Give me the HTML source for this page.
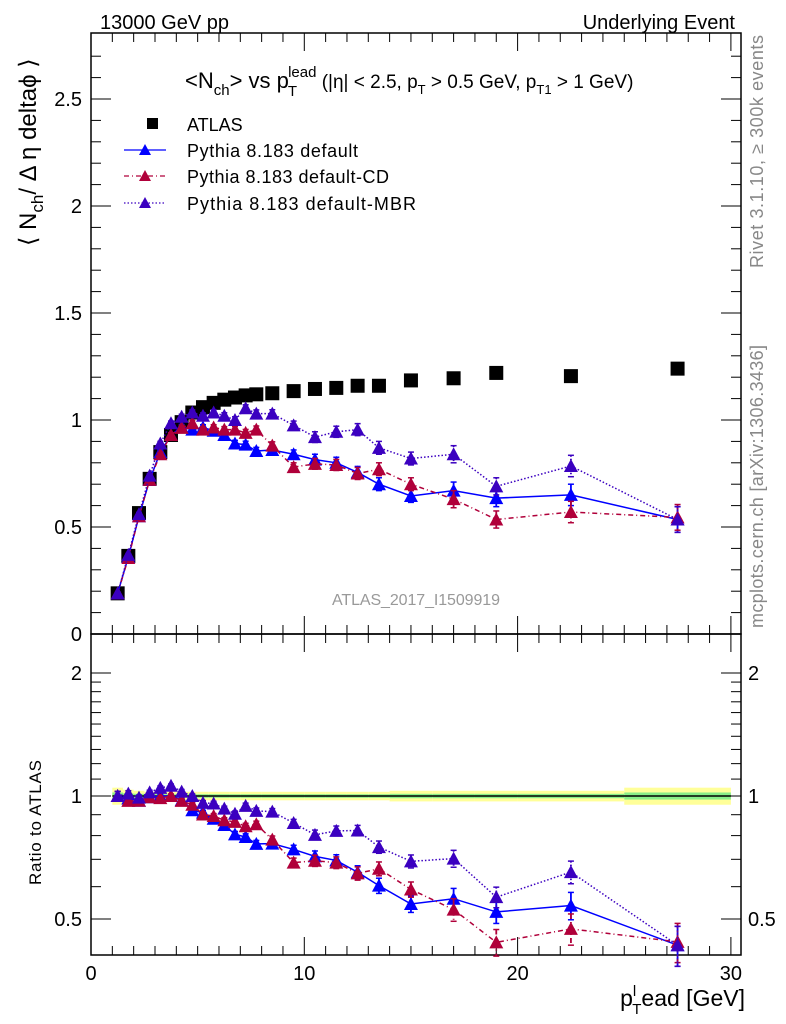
<!DOCTYPE html>
<html><head><meta charset="utf-8"><style>
html,body{margin:0;padding:0;background:#fff}
svg{display:block;font-family:"Liberation Sans",Arial,sans-serif}
</style></head><body>
<svg id="c" width="786" height="1024" viewBox="0 0 786 1024" xmlns="http://www.w3.org/2000/svg">
<g id="band"></g>
<g id="axes"></g>
<g id="marks"></g>
<text x="100" y="29" font-size="20">13000 GeV pp</text>
<text x="735" y="29" font-size="20" text-anchor="end">Underlying Event</text>
<text x="185" y="88" font-size="22">&lt;N<tspan font-size="15" dy="7">ch</tspan><tspan dy="-7">&gt; vs p</tspan><tspan font-size="15" dy="8" dx="-1">T</tspan><tspan font-size="15" dy="-19" dx="-9">lead</tspan><tspan font-size="19" dy="11"> (|η| &lt; 2.5, p</tspan><tspan font-size="13" dy="6">T</tspan><tspan font-size="19" dy="-6"> &gt; 0.5 GeV, p</tspan><tspan font-size="13" dy="6">T1</tspan><tspan font-size="19" dy="-6"> &gt; 1 GeV)</tspan></text>
<g font-size="18">
<rect x="147" y="118" width="11" height="11" fill="#000"/>
<text x="187" y="131">ATLAS</text>
<line x1="124" y1="150" x2="166" y2="150" stroke="#0000ff" stroke-width="1.3"/>
<polygon points="139,155 151,155 145,144" fill="#0000ff"/>
<text x="187" y="157" textLength="171">Pythia 8.183 default</text>
<line x1="124" y1="176" x2="166" y2="176" stroke="#b0003a" stroke-width="1.3" stroke-dasharray="5,3,1,3"/>
<polygon points="139,181 151,181 145,170" fill="#b0003a"/>
<text x="187" y="183" textLength="202">Pythia 8.183 default-CD</text>
<line x1="124" y1="203" x2="166" y2="203" stroke="#3b00c0" stroke-width="1.3" stroke-dasharray="1.5,2"/>
<polygon points="139,208 151,208 145,197" fill="#3b00c0"/>
<text x="187" y="210" textLength="229">Pythia 8.183 default-MBR</text>
</g>
<text x="332" y="605" font-size="16" fill="#999" textLength="168">ATLAS_2017_I1509919</text>
<text transform="translate(763,268) rotate(-90)" font-size="18" fill="#888" textLength="233">Rivet 3.1.10, ≥ 300k events</text>
<text transform="translate(763,628) rotate(-90)" font-size="18" fill="#888" textLength="283">mcplots.cern.ch [arXiv:1306.3436]</text>
<text transform="translate(36,246) rotate(-90)" font-size="24">⟨ N<tspan font-size="17" dy="7">ch</tspan><tspan dy="-7">/ Δ η deltaϕ ⟩</tspan></text>
<text transform="translate(41,885) rotate(-90)" font-size="17" textLength="125">Ratio to ATLAS</text>
<text x="745" y="1006" font-size="23" text-anchor="end">p<tspan font-size="15" dy="-10">l</tspan><tspan font-size="15" dy="18" dx="-4">T</tspan><tspan dy="-8">ead [GeV]</tspan></text>
</svg>
<script>
const xCenters=[1.25,1.75,2.25,2.75,3.25,3.75,4.25,4.75,5.25,5.75,6.25,6.75,7.25,7.75,8.5,9.5,10.5,11.5,12.5,13.5,15,17,19,22.5,27.5];
const atlas=[0.19,0.365,0.565,0.725,0.85,0.93,0.99,1.035,1.06,1.08,1.095,1.105,1.115,1.12,1.125,1.135,1.145,1.15,1.16,1.16,1.185,1.195,1.22,1.205,1.24];
const pyDefault=[0.19,0.36,0.55,0.72,0.85,0.93,0.967,0.955,0.965,0.95,0.93,0.89,0.885,0.855,0.86,0.84,0.815,0.80,0.755,0.70,0.645,0.67,0.635,0.65,0.535];
const pyCD=[0.19,0.355,0.55,0.72,0.84,0.93,0.963,0.985,0.955,0.965,0.955,0.955,0.94,0.955,0.88,0.78,0.795,0.79,0.75,0.77,0.70,0.63,0.535,0.57,0.545];
const pyMBR=[0.19,0.37,0.56,0.74,0.89,0.985,1.015,1.035,1.02,1.035,1.02,1.0,1.055,1.03,1.03,0.975,0.92,0.945,0.955,0.87,0.82,0.84,0.69,0.785,0.535];
const mcErr=[0.005,0.006,0.008,0.009,0.01,0.01,0.012,0.012,0.013,0.013,0.014,0.015,0.016,0.017,0.018,0.02,0.025,0.026,0.028,0.03,0.03,0.04,0.04,0.05,0.06];
const bandHalf=[0.04,0.03,0.025,0.02,0.02,0.02,0.02,0.02,0.02,0.02,0.02,0.02,0.02,0.02,0.02,0.02,0.02,0.02,0.02,0.02,0.025,0.025,0.025,0.025,0.04];
const binEdges=[1,1.5,2,2.5,3,3.5,4,4.5,5,5.5,6,6.5,7,7.5,8,9,10,11,12,13,14,16,18,20,25,30];
const xTicks=[0,10,20,30];
const yTicks=[0.5,1,1.5,2,2.5];
const yTickLabels=["0.5","1","1.5","2","2.5"];
const rTicks=[0.5,1,2];

const NS="http://www.w3.org/2000/svg";
const L=91,R=741,T=33,MB=634,RB=955;
const X=v=>L+v*21.33;
const Y=v=>MB-v*214;
const RY=v=>796-Math.log(v)*177.5;
function mk(p,tag,at){const e=document.createElementNS(NS,tag);for(const k in at)e.setAttribute(k,at[k]);p.appendChild(e);return e;}
const axes=document.getElementById('axes'),marks=document.getElementById('marks'),band=document.getElementById('band');

for(let i=0;i<xCenters.length;i++){
  const x1=X(binEdges[i]),x2=X(binEdges[i+1]),h=bandHalf[i];
  const y=mk(band,'rect',{x:x1,y:RY(1+h*1.2),width:x2-x1,height:RY(1-h*1.2)-RY(1+h*1.2),fill:'#ffff99'});
  
  
  const g=mk(band,'rect',{x:x1,y:RY(1+h*0.5),width:x2-x1,height:RY(1-h*0.5)-RY(1+h*0.5),fill:'#88ee88'});
  
  
}
mk(band,'line',{x1:X(1),x2:X(30),y1:RY(1),y2:RY(1),stroke:'#000','stroke-width':1.5});

const f1=mk(axes,'rect',{x:L,y:T,width:R-L,height:MB-T,fill:'none',stroke:'#000','stroke-width':1.5});


const f2=mk(axes,'rect',{x:L,y:MB,width:R-L,height:RB-MB,fill:'none',stroke:'#000','stroke-width':1.5});



for(let v=0;v<=30;v++){
  const x=X(v),len=(v%10===0)?18:9;
  [[T,1],[MB,-1],[MB,1],[RB,-1]].forEach(([y0,d])=>mk(axes,'line',{x1:x,x2:x,y1:y0,y2:y0+d*len,stroke:'#000','stroke-width':1}));
}
xTicks.forEach(v=>{const t=mk(axes,'text',{x:X(v),y:980,'font-size':20,'text-anchor':'middle'});t.textContent=String(v);

});
for(let i=1;i<=27;i++){const v=i/10,y=Y(v),len=(i%5===0)?20:10;
  mk(axes,'line',{x1:L,x2:L+len,y1:y,y2:y,stroke:'#000'});mk(axes,'line',{x1:R,x2:R-len,y1:y,y2:y,stroke:'#000'});}
mk(axes,'line',{x1:L,x2:L+20,y1:Y(0),y2:Y(0),stroke:'#000'});
yTicks.forEach((v,i)=>{const t=mk(axes,'text',{x:82,y:Y(v)+7,'font-size':20,'text-anchor':'end'});t.textContent=yTickLabels[i];

});
const z=mk(axes,'text',{x:82,y:641,'font-size':20,'text-anchor':'end'});z.textContent='0';
[0.5,0.6,0.7,0.8,0.9,1,1.1,1.2,1.3,1.4,1.5,1.6,1.7,1.8,1.9,2].forEach(v=>{const y=RY(v),len=rTicks.includes(v)?20:10;
  mk(axes,'line',{x1:L,x2:L+len,y1:y,y2:y,stroke:'#000'});mk(axes,'line',{x1:R,x2:R-len,y1:y,y2:y,stroke:'#000'});});
rTicks.forEach(v=>{const s=String(v);
  const a=mk(axes,'text',{x:82,y:RY(v)+7,'font-size':20,'text-anchor':'end'});a.textContent=s;
  
  
  const b=mk(axes,'text',{x:748,y:RY(v)+7,'font-size':20});b.textContent=s;
  
  });

const series=[
 {name:'default',vals:pyDefault,col:'#0000ff',dash:''},
 {name:'default-cd',vals:pyCD,col:'#b0003a',dash:'5,3,1,3'},
 {name:'default-mbr',vals:pyMBR,col:'#3b00c0',dash:'1.5,2'}];
function tri(g,x,y,c){mk(g,'polygon',{points:`${x-7},${y+6} ${x+7},${y+6} ${x},${y-7}`,fill:c});}
const ga=mk(marks,'g',{});


xCenters.forEach((x,i)=>{mk(ga,'rect',{x:X(x)-7,y:Y(atlas[i])-7,width:14,height:14,fill:'#000'});});
series.forEach(s=>{
  ['main','ratio'].forEach(panel=>{
    const g=mk(marks,'g',{});
    
    
    const yf=panel==='main'?(i=>Y(s.vals[i])):(i=>RY(s.vals[i]/atlas[i]));
    const ye=panel==='main'?((i,d)=>Y(s.vals[i]+d*mcErr[i])):((i,d)=>RY((s.vals[i]+d*mcErr[i])/atlas[i]));
    const pts=xCenters.map((x,i)=>X(x)+','+yf(i)).join(' ');
    mk(g,'polyline',{points:pts,fill:'none',stroke:s.col,'stroke-width':1.5,'stroke-dasharray':s.dash});
    xCenters.forEach((x,i)=>{const px=X(x);
      mk(g,'line',{x1:px,x2:px,y1:ye(i,1),y2:ye(i,-1),stroke:s.col,'stroke-width':1.8,'stroke-dasharray':s.dash});
      [1,-1].forEach(d=>mk(g,'line',{x1:px-3,x2:px+3,y1:ye(i,d),y2:ye(i,d),stroke:s.col,'stroke-width':1.5}));
      tri(g,px,yf(i),s.col);});
  });
});
</script>
</body></html>
